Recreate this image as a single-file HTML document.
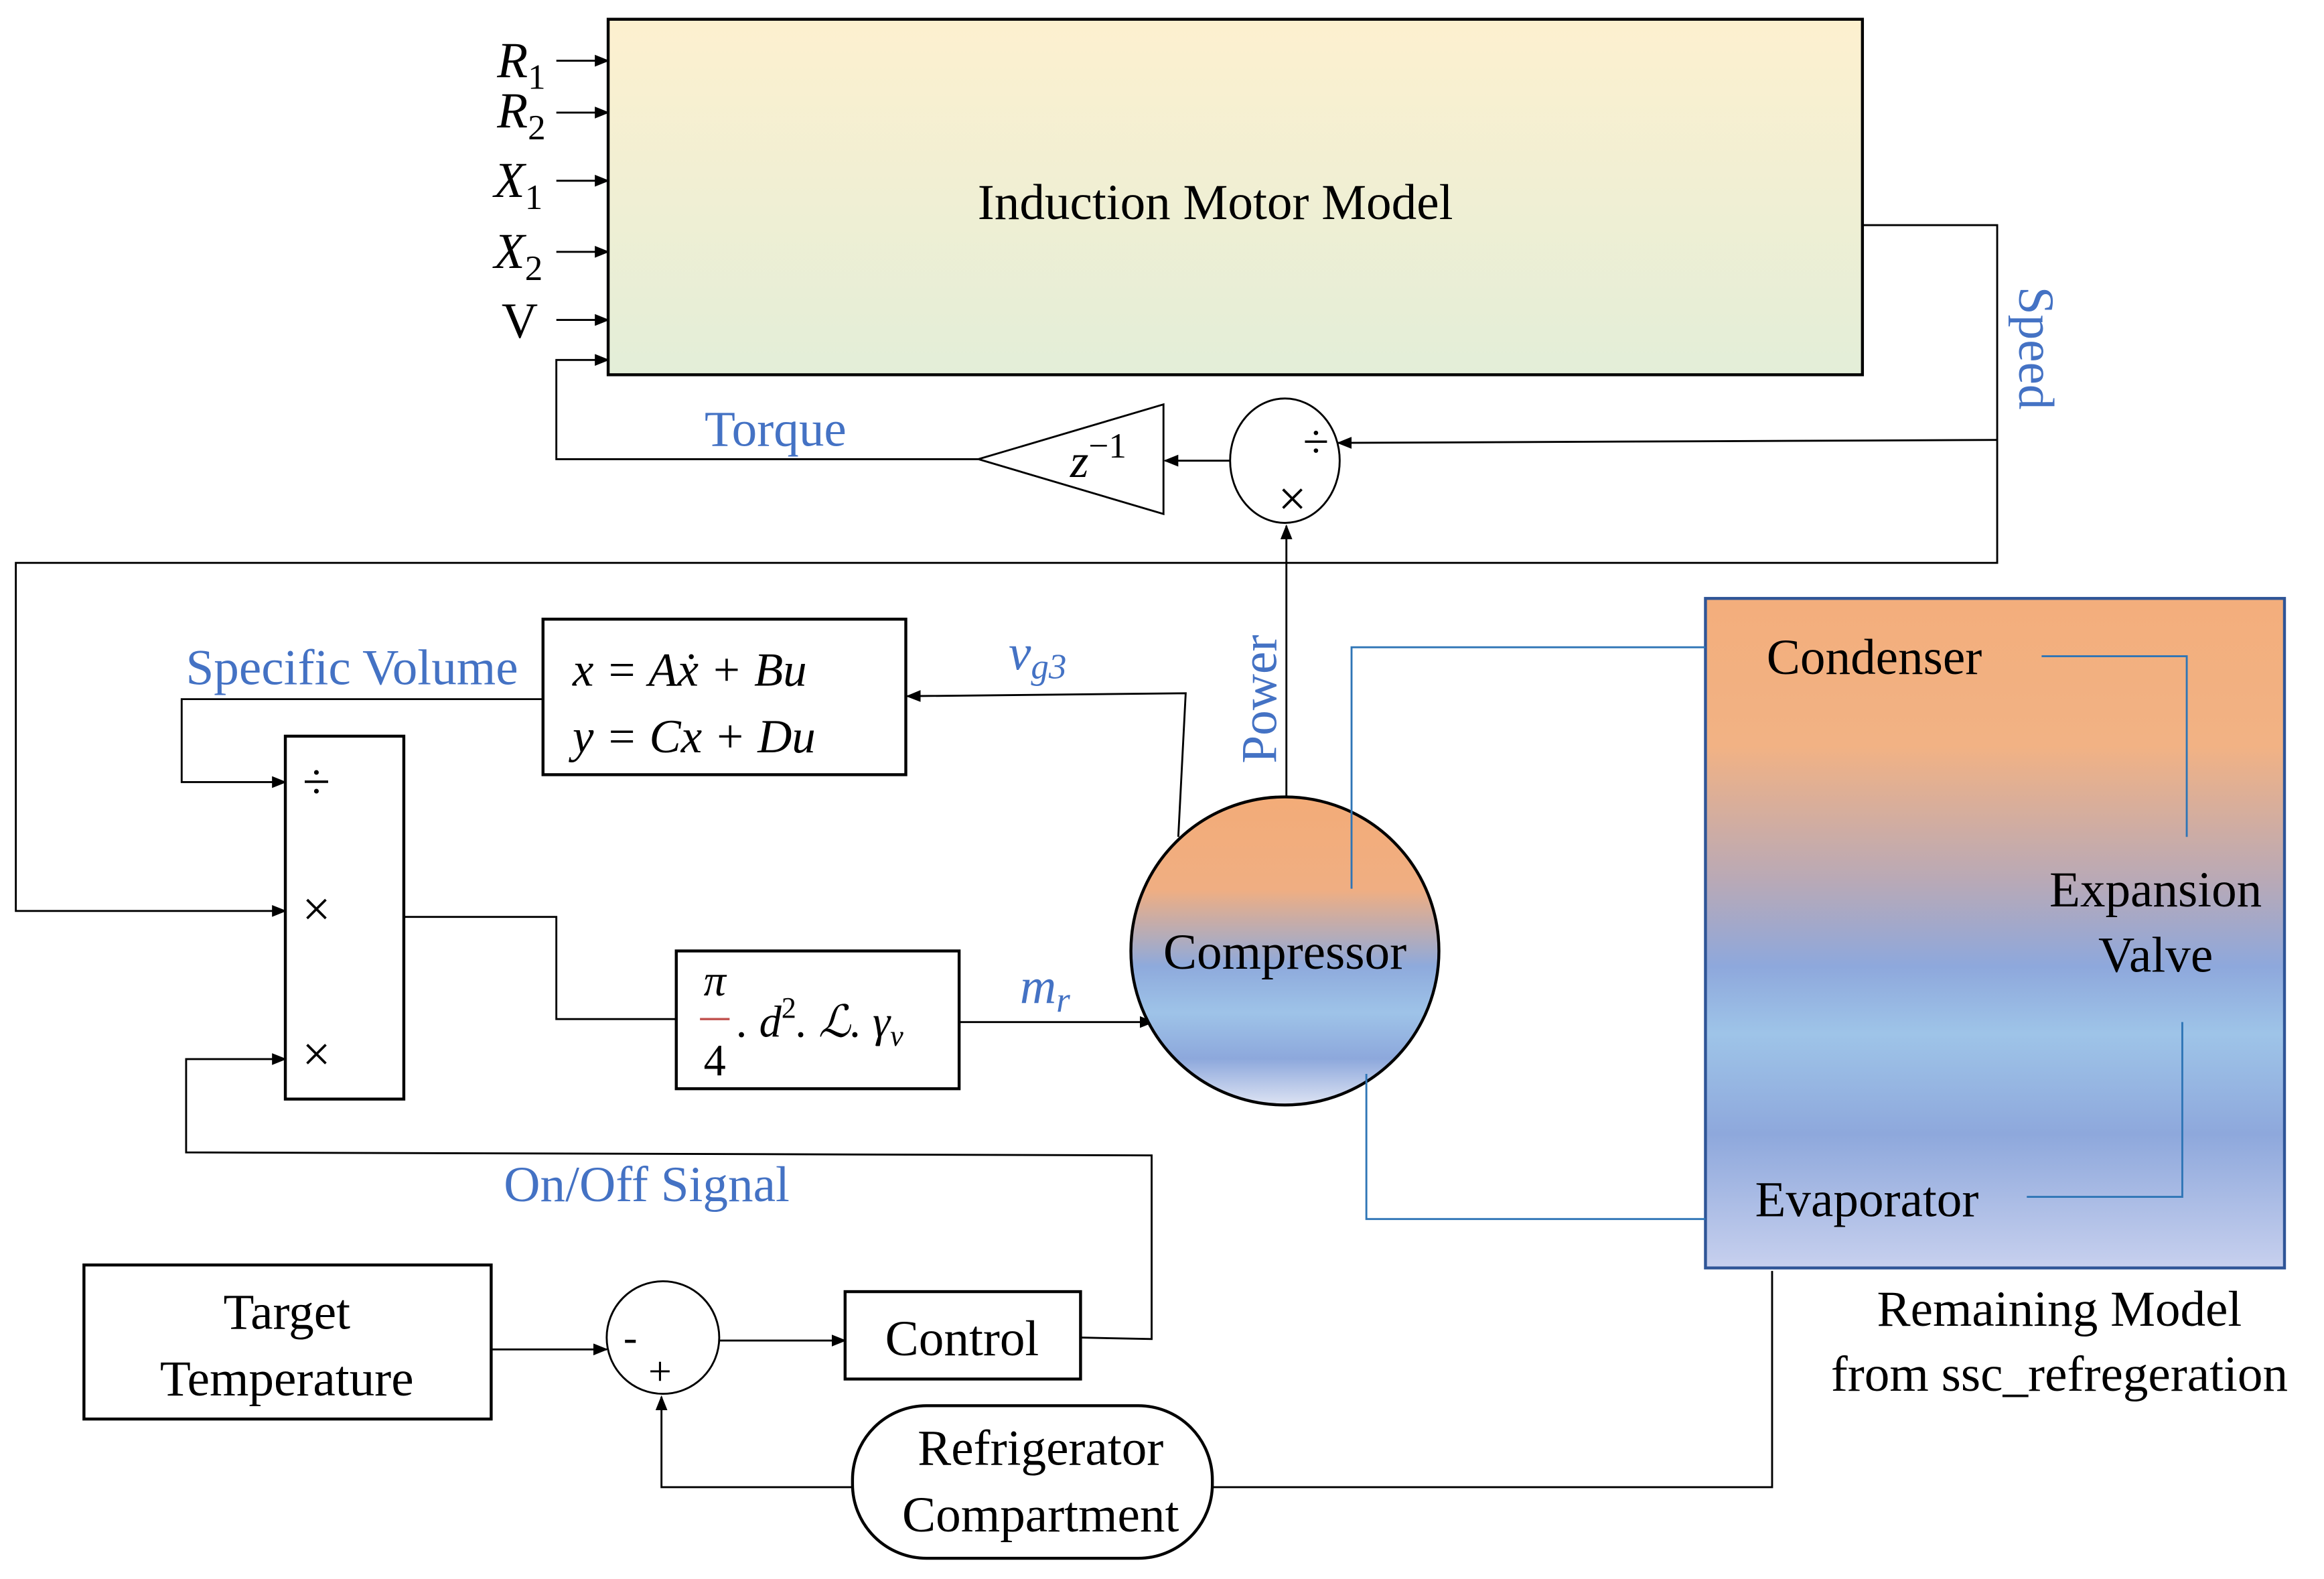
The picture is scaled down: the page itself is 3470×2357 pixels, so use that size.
<!DOCTYPE html>
<html><head><meta charset="utf-8"><style>
html,body{margin:0;padding:0;background:#fff}
svg{display:block}
text{font-family:"Liberation Serif",serif;}
</style></head><body>
<svg width="3470" height="2357" viewBox="0 0 1568 1066" xmlns="http://www.w3.org/2000/svg">
<defs>
<linearGradient id="gm" x1="0" y1="0" x2="0" y2="1"><stop offset="0" stop-color="#fdf0cf"/><stop offset="1" stop-color="#e3eed8"/></linearGradient>
<linearGradient id="gc" x1="0" y1="0" x2="0" y2="1"><stop offset="0" stop-color="#f3ac78"/><stop offset="0.3" stop-color="#f0ae82"/><stop offset="0.55" stop-color="#8eaadc"/><stop offset="0.7" stop-color="#9ec3e8"/><stop offset="0.85" stop-color="#8da8dc"/><stop offset="1" stop-color="#dde3f3"/></linearGradient>
<linearGradient id="gr" x1="0" y1="0" x2="0" y2="1"><stop offset="0" stop-color="#f3ae7c"/><stop offset="0.22" stop-color="#f2b284"/><stop offset="0.42" stop-color="#b9a9b6"/><stop offset="0.55" stop-color="#8ea8dc"/><stop offset="0.65" stop-color="#9ec4e8"/><stop offset="0.8" stop-color="#8ea8dc"/><stop offset="1" stop-color="#c7d0ee"/></linearGradient>
<marker id="a" markerWidth="10" markerHeight="10" refX="9" refY="5" orient="auto" markerUnits="userSpaceOnUse"><path d="M0,1 L10,5 L0,9 z" fill="#000"/></marker>
</defs>
<g stroke="#000" stroke-width="1.3" fill="none">
<rect x="410" y="13" width="847" height="240" fill="url(#gm)" stroke-width="2"/>
<line x1="375" y1="41" x2="410" y2="41" marker-end="url(#a)"/>
<line x1="375" y1="76" x2="410" y2="76" marker-end="url(#a)"/>
<line x1="375" y1="122" x2="410" y2="122" marker-end="url(#a)"/>
<line x1="375" y1="170" x2="410" y2="170" marker-end="url(#a)"/>
<line x1="375" y1="216" x2="410" y2="216" marker-end="url(#a)"/>
<polyline points="660,310 375,310 375,243 410,243" marker-end="url(#a)"/>
<polyline points="1257,152 1348,152 1348,380 10,380 10,615 192,615" marker-end="url(#a)"/>
<polyline points="1348,297 903,299" marker-end="url(#a)"/>
<ellipse cx="867" cy="311" rx="37" ry="42" fill="#fff"/>
<line x1="830" y1="311" x2="786" y2="311" marker-end="url(#a)"/>
<polygon points="660,310 785,273 785,347" fill="#fff"/>
<line x1="868" y1="540" x2="868" y2="355" marker-end="url(#a)"/>
<rect x="366" y="418" width="245" height="105" fill="#fff" stroke-width="2"/>
<polyline points="795,565 800,468 612,470" marker-end="url(#a)"/>
<polyline points="366,472 122,472 122,528 192,528" marker-end="url(#a)"/>
<rect x="192" y="497" width="80" height="245" fill="#fff" stroke-width="2"/>
<polyline points="272,619 375,619 375,688 456,688"/>
<rect x="456" y="642" width="191" height="93" fill="#fff" stroke-width="2"/>
<line x1="647" y1="690" x2="778" y2="690" marker-end="url(#a)"/>
<circle cx="867" cy="642" r="104" fill="url(#gc)" stroke-width="2"/>
<polyline points="729,903 777,904 777,780 125,778 125,715 192,715" marker-end="url(#a)"/>
<rect x="56" y="854" width="275" height="104" fill="#fff" stroke-width="2"/>
<line x1="331" y1="911" x2="409" y2="911" marker-end="url(#a)"/>
<circle cx="447" cy="903" r="38" fill="#fff"/>
<line x1="485" y1="905" x2="570" y2="905" marker-end="url(#a)"/>
<rect x="570" y="872" width="159" height="59" fill="#fff" stroke-width="2"/>
<rect x="575" y="949" width="243" height="103" rx="50" fill="#fff" stroke-width="2"/>
<polyline points="818,1004 1196,1004 1196,858"/>
<polyline points="575,1004 446,1004 446,943" marker-end="url(#a)"/>
<rect x="1151" y="404" width="391" height="452" fill="url(#gr)" stroke="#2f5597" stroke-width="2"/>
<g stroke="#2e75b6" stroke-width="1.3">
<polyline points="1151,437 912,437 912,600"/>
<polyline points="922,725 922,823 1151,823"/>
<polyline points="1378,443 1476,443 1476,565"/>
<polyline points="1368,808 1473,808 1473,690"/>
</g>
</g>
<g font-size="34" fill="#000">
<text x="820" y="148" text-anchor="middle">Induction Motor Model</text>
<text x="335" y="52" font-style="italic">R<tspan font-size="24" dy="8" font-style="normal">1</tspan></text>
<text x="335" y="86" font-style="italic">R<tspan font-size="24" dy="8" font-style="normal">2</tspan></text>
<text x="333" y="133" font-style="italic">X<tspan font-size="24" dy="8" font-style="normal">1</tspan></text>
<text x="333" y="181" font-style="italic">X<tspan font-size="24" dy="8" font-style="normal">2</tspan></text>
<text x="338" y="228">V</text>
<text x="722" y="322" font-style="italic" font-size="32">z<tspan font-style="normal" font-size="24" dy="-13">−1</tspan></text>
<text x="888" y="309" text-anchor="middle" font-size="32">÷</text>
<text x="872" y="348" text-anchor="middle" font-size="34">×</text>
<text x="386" y="463" font-style="italic" font-size="32">x = A<tspan>ẋ</tspan> + Bu</text>
<text x="386" y="508" font-style="italic" font-size="32">y = Cx + Du</text>
<text x="213" y="539" text-anchor="middle" font-size="34">÷</text>
<text x="213" y="625" text-anchor="middle" font-size="34">×</text>
<text x="213" y="723" text-anchor="middle" font-size="34">×</text>
<text x="482" y="672" text-anchor="middle" font-style="italic" font-size="30">π</text>
<line x1="472" y1="688" x2="492" y2="688" stroke="#c0504d" stroke-width="1.5"/>
<text x="482" y="726" text-anchor="middle" font-size="30">4</text>
<text x="497" y="700" font-style="italic" font-size="30">. d<tspan font-style="normal" font-size="20" dy="-13">2</tspan><tspan dy="13">. ℒ. γ</tspan><tspan font-size="20" dy="6">v</tspan></text>
<text x="867" y="654" text-anchor="middle">Compressor</text>
<text x="193" y="897" text-anchor="middle">Target</text>
<text x="193" y="942" text-anchor="middle">Temperature</text>
<text x="425" y="912" text-anchor="middle" font-size="28">-</text>
<text x="445" y="935" text-anchor="middle" font-size="28">+</text>
<text x="649" y="915" text-anchor="middle">Control</text>
<text x="702" y="989" text-anchor="middle">Refrigerator</text>
<text x="702" y="1034" text-anchor="middle">Compartment</text>
<text x="1265" y="455" text-anchor="middle">Condenser</text>
<text x="1455" y="612" text-anchor="middle">Expansion</text>
<text x="1455" y="656" text-anchor="middle">Valve</text>
<text x="1260" y="821" text-anchor="middle">Evaporator</text>
<text x="1390" y="895" text-anchor="middle">Remaining Model</text>
<text x="1390" y="939" text-anchor="middle">from ssc_refregeration</text>
</g>
<g font-size="34" fill="#4472c4">
<text x="523" y="301" text-anchor="middle">Torque</text>
<text x="237" y="462" text-anchor="middle">Specific Volume</text>
<text x="700" y="452" text-anchor="middle" font-style="italic">v<tspan font-size="24" dy="6">g3</tspan></text>
<text x="705" y="677" text-anchor="middle" font-style="italic">m<tspan font-size="24" dy="6">r</tspan></text>
<text x="436" y="811" text-anchor="middle">On/Off Signal</text>
<text transform="translate(1363,235) rotate(90)" text-anchor="middle">Speed</text>
<text transform="translate(861,472) rotate(-90)" text-anchor="middle">Power</text>
</g>
</svg>
</body></html>
